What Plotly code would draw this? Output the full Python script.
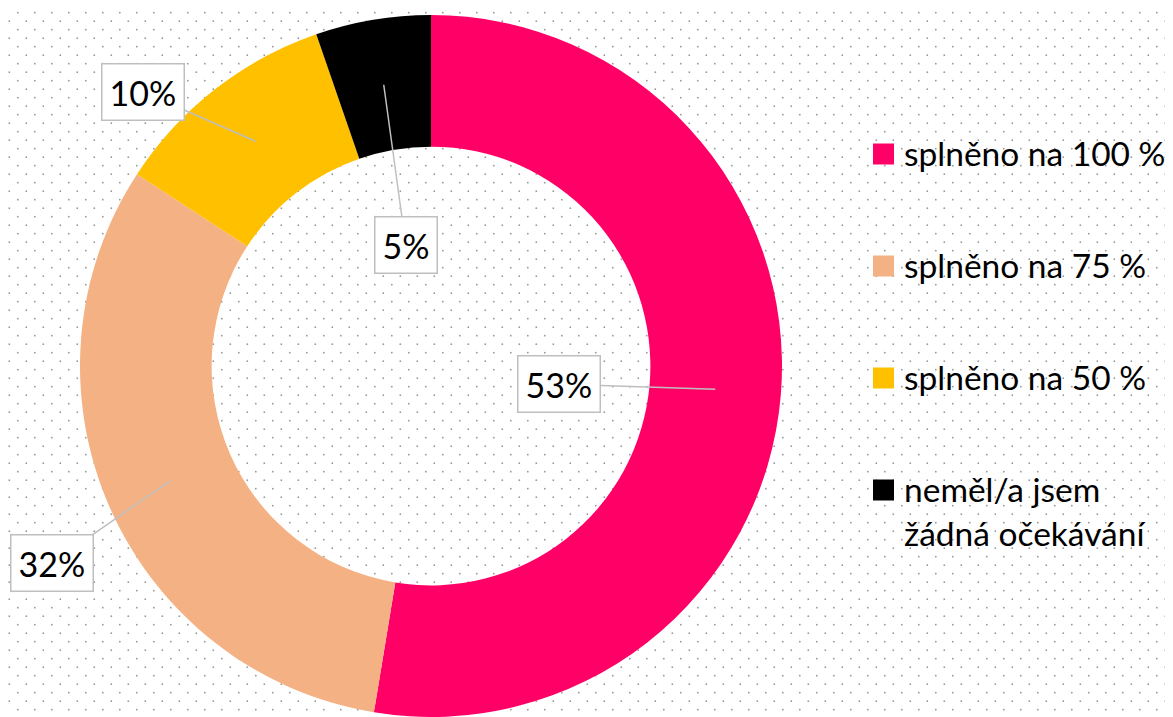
import base64
import math
import plotly.graph_objects as go

# ---- data ----
categories = ["splněno na 100 %", "splněno na 75 %", "splněno na 50 %", "neměl/a jsem žádná očekávání"]
legend_labels = ["splněno na 100 %", "splněno na 75 %", "splněno na 50 %", "neměl/a jsem<br>žádná očekávání"]
values = [52.6, 31.6, 10.5, 5.3]          # shares
value_labels = ["53%", "32%", "10%", "5%"]  # labels as printed on the chart
colors = ["#FF0066", "#F4B183", "#FFC000", "#000000"]

# ---- layout geometry (not data) ----
OFF = 8                      # default page body margin
W, H = 1173 - OFF, 717 - OFF
FONT = "Lato"
HOLE = 0.625
TOP = 15 - OFF               # top of ring in figure pixels
dom_y = [0.0, 1 - TOP / H]
R = (dom_y[1] - dom_y[0]) * H / 2
CX = 431 - OFF
dom_x = [(CX - R) / W, (CX + R) / W]
CY = TOP + R
label_offsets = [(-156, -5), (-118, 82), (-112, -49), (22, 160)]
LEG_SQ_X = 883.5 - OFF
LEG_TXT_X = 903 - OFF
LEG_Y0 = 154 - OFF
LEG_STEP = 112
LEG_SQ = 21
LEG_FONT = 33.5


def px2paper(x, y):
    return x / W, 1 - y / H


fig = go.Figure()
fig.add_trace(go.Pie(
    values=values, labels=categories, text=value_labels,
    marker=dict(colors=colors, line=dict(width=0)),
    hole=HOLE, sort=False, direction="clockwise", rotation=0,
    textinfo="none", hoverinfo="label+text", showlegend=False,
    domain=dict(x=dom_x, y=dom_y),
))

# callout labels
total = sum(values)
cum = 0
r_mid = R * (1 + HOLE) / 2
for v, txt, (ox, oy) in zip(values, value_labels, label_offsets):
    mid = (cum + v / 2) / total * 2 * math.pi
    cum += v
    px = CX + r_mid * math.sin(mid)
    py = CY - r_mid * math.cos(mid)
    x, y = px2paper(px, py)
    fig.add_annotation(
        x=x, y=y, xref="paper", yref="paper",
        text=txt, showarrow=True, arrowhead=0, arrowwidth=1.5, arrowcolor="#BFBFBF",
        ax=ox, ay=oy, bgcolor="white", bordercolor="#BFBFBF", borderwidth=1.5,
        borderpad=7, font=dict(family=FONT, size=34, color="black"),
    )

# legend (drawn manually for exact spacing)
for i, (lab, col) in enumerate(zip(legend_labels, colors)):
    cy = LEG_Y0 + i * LEG_STEP
    x0, y0 = px2paper(LEG_SQ_X - LEG_SQ / 2, cy - LEG_SQ / 2)
    x1, y1 = px2paper(LEG_SQ_X + LEG_SQ / 2, cy + LEG_SQ / 2)
    fig.add_shape(type="rect", xref="paper", yref="paper", x0=x0, x1=x1, y0=y1, y1=y0,
                  fillcolor=col, line=dict(width=0))
    tx, ty = px2paper(LEG_TXT_X, cy - LEG_FONT * 0.65)
    fig.add_annotation(
        x=tx, y=ty, xref="paper", yref="paper", text=lab, showarrow=False,
        xanchor="left", yanchor="top", align="left", borderpad=0,
        font=dict(family=FONT, size=LEG_FONT, color="black"),
    )

# dotted background pattern
svg = (
    f'<svg xmlns="http://www.w3.org/2000/svg" width="{W}" height="{H}">'
    '<defs><pattern id="p" width="17" height="17" patternUnits="userSpaceOnUse">'
    '<circle cx="1.3" cy="13.2" r="0.9" fill="#999999"/>'
    '<circle cx="9.8" cy="4.7" r="0.9" fill="#999999"/>'
    '</pattern></defs><rect width="100%" height="100%" fill="url(#p)"/></svg>'
)
src = "data:image/svg+xml;base64," + base64.b64encode(svg.encode()).decode()
fig.add_layout_image(dict(
    source=src, xref="paper", yref="paper", x=0, y=1, sizex=1, sizey=1,
    xanchor="left", yanchor="top", sizing="stretch", layer="below",
))

fig.update_layout(
    width=W, height=H, autosize=False,
    margin=dict(l=0, r=0, t=0, b=0),
    paper_bgcolor="white", plot_bgcolor="rgba(0,0,0,0)",
    font=dict(family=FONT, color="black"),
    showlegend=False,
)

fig.write_html("out.html")
